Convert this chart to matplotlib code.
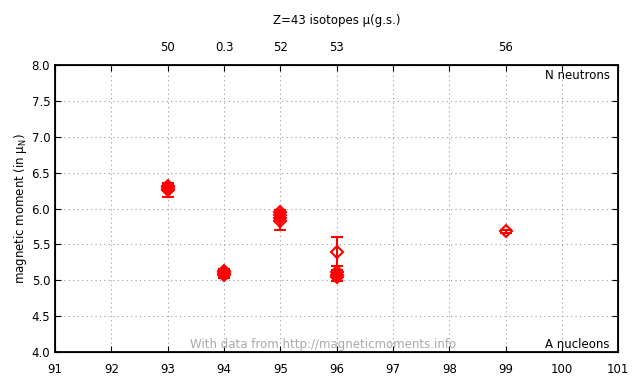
import numpy as np
import matplotlib
matplotlib.use('Agg')
from matplotlib import pyplot as plt

plt.rcParams['font.family'] = ['DejaVu Sans']
plt.rcParams['mathtext.default'] = 'regular'

# nucleon number A, moment, error
A = [93, 93, 93, 94, 94, 94, 95, 95, 95, 95, 96, 96, 96, 96, 99]
mu = [6.32, 6.28, 6.26, 5.13, 5.10, 5.08, 5.95, 5.91, 5.87, 5.82, 5.40, 5.11, 5.07, 5.04, 5.68]
err = [0.03, 0.03, 0.10, 0.03, 0.03, 0.05, 0.03, 0.03, 0.03, 0.12, 0.20, 0.03, 0.03, 0.05, 0.02]

top_pos = [93, 94, 95, 96, 99]
top_lab = ['50', '0.3', '52', '53', '56']

fig = plt.figure(figsize=(6.4, 3.84), dpi=100)
ax = fig.add_axes([0.086, 0.083, 0.88, 0.748])

ax.errorbar(A, mu, yerr=err, fmt='D', color='red', mfc='none', mec='red',
            ms=6, mew=1.5, elinewidth=1.5, capsize=4, capthick=1.5, zorder=3)

ax.set_xlim(91, 101)
ax.set_ylim(4.0, 8.0)
ax.set_xticks(np.arange(91, 102, 1))
ax.set_yticks(np.arange(4.0, 8.01, 0.5))
ax.set_yticklabels(['%.1f' % v for v in np.arange(4.0, 8.01, 0.5)])
ax.grid(True, color='#999999', linestyle=(0, (1, 3)), linewidth=0.8)
ax.tick_params(direction='in', labelsize=8.5, length=4, right=True)
ax.tick_params(axis='x', pad=8)
for s in ax.spines.values():
    s.set_linewidth(1.3)

ax.set_ylabel('magnetic moment (in $\\mu_N$)', fontsize=8.5, labelpad=2)

ax2 = ax.twiny()
ax2.set_xlim(91, 101)
ax2.set_xticks(np.arange(91, 102, 1))
labs = []
for v in range(91, 102):
    labs.append(top_lab[top_pos.index(v)] if v in top_pos else '')
ax2.set_xticklabels(labs)
ax2.tick_params(direction='in', labelsize=8.5, length=4, pad=8)
ax2.set_xlabel('Z=43 isotopes \u03bc(g.s.)', fontsize=8.5, labelpad=12)

ax.text(0.985, 0.985, 'N neutrons', transform=ax.transAxes, ha='right', va='top', fontsize=8.5)
ax.text(0.985, 0.005, 'A nucleons', transform=ax.transAxes, ha='right', va='bottom', fontsize=8.5)
ax.text(0.24, 0.005, 'With data from http://magneticmoments.info', transform=ax.transAxes,
        ha='left', va='bottom', fontsize=8.5, color='#aaaaaa')

fig.savefig('out.png', dpi=100)
